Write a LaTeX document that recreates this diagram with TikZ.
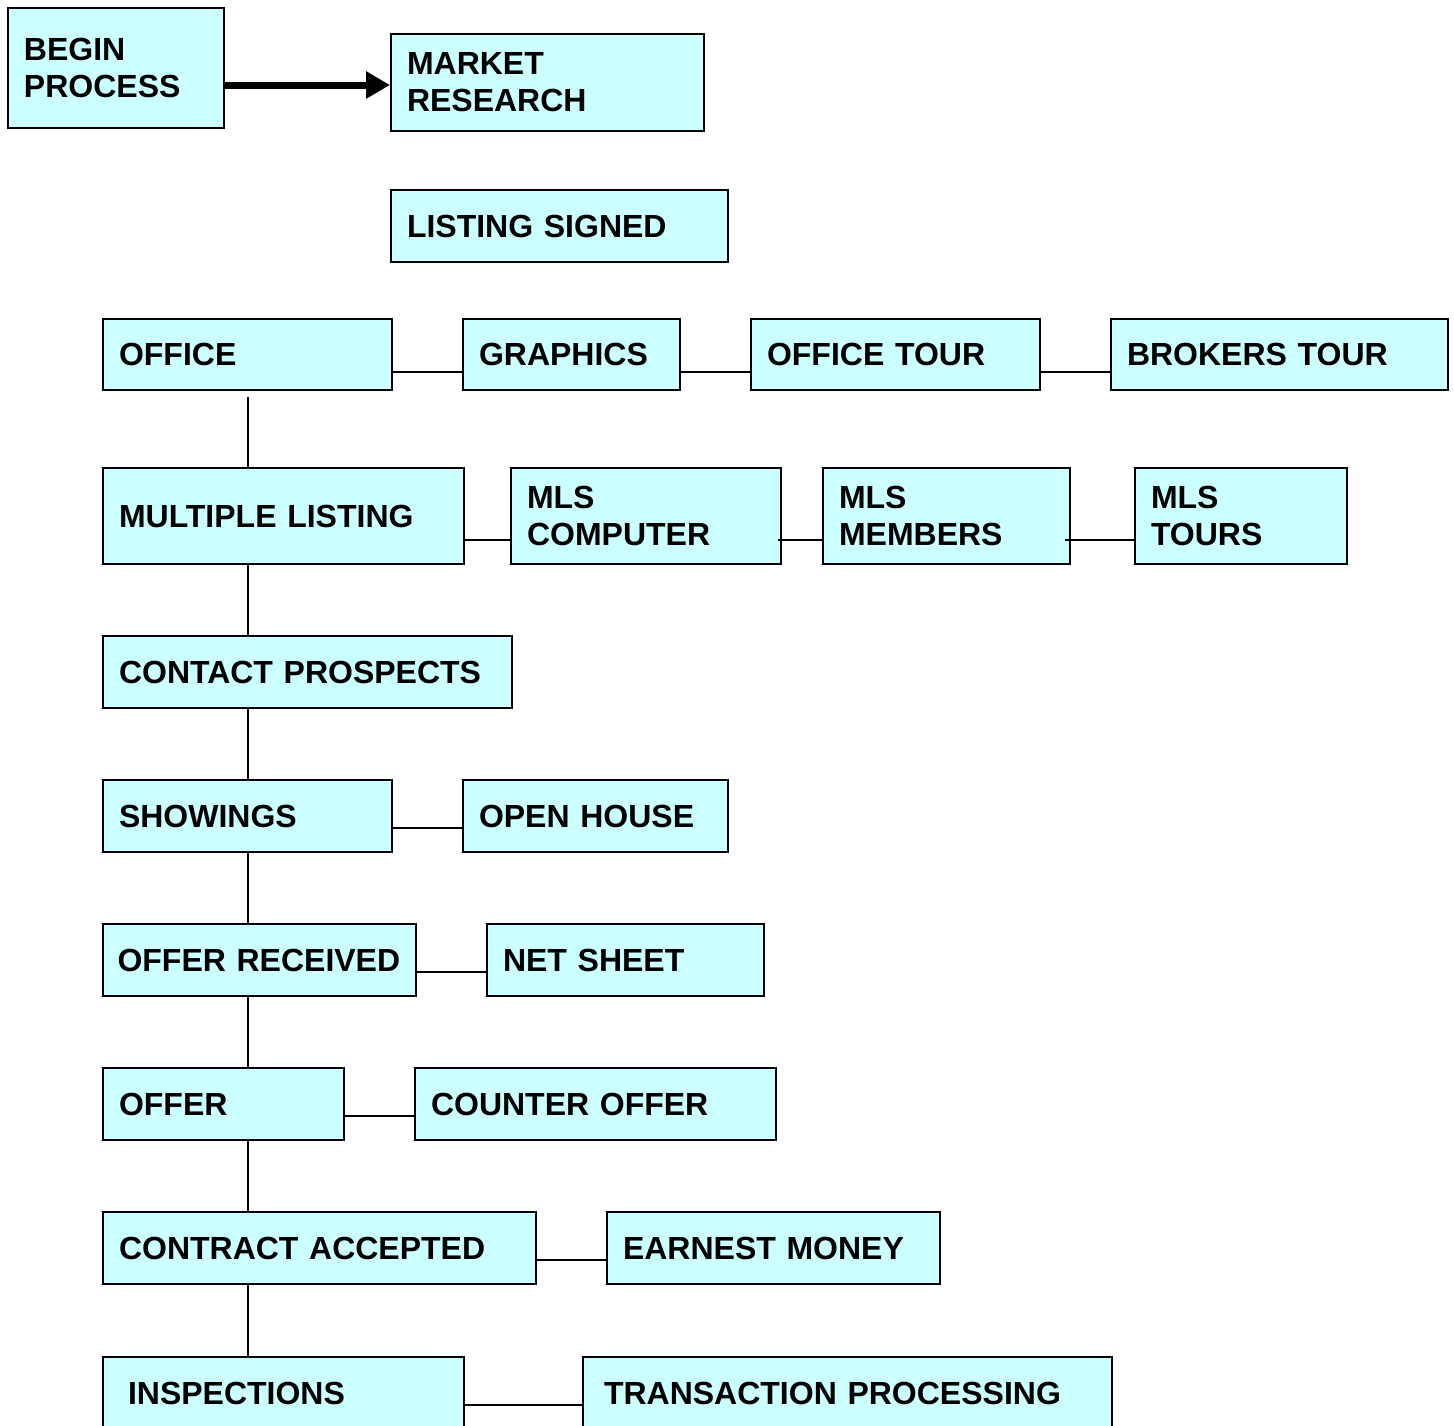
\documentclass[tikz,border=0pt]{standalone}
\usepackage{fontspec}
\setmainfont{Liberation Sans}
\usepackage{xcolor}
\usetikzlibrary{positioning,calc,arrows.meta}
\definecolor{boxcyan}{HTML}{CCFFFF}
\tikzset{
    cell/.style={draw=black, line width=1pt, fill=boxcyan, anchor=north west,
        inner xsep=8pt, inner ysep=0pt, align=left,
        font=\fontsize{16}{18.5}\selectfont\bfseries},
    cellw/.style 2 args={text width=#1, minimum height=#2},
    link/.style={line width=1pt}
}
\begin{document}
\begin{tikzpicture}[x=0.5pt, y=-0.5pt]
    \useasboundingbox (0, 0) rectangle (1454, 1425);
    % top row
    \node [cell, cellw={92pt}{60pt}] (begin) at (7, 7) {BEGIN\\PROCESS};
    \node [cell, cellw={140.5pt}{48.5pt}] (market) at (390, 33) {MARKET\\RESEARCH};
    \node [cell, cellw={152.5pt}{36pt}] (listing) at (390, 189) {LISTING SIGNED};
    \draw [line width=3.5pt, -{Triangle[length=12pt, width=13pt]}] (begin.east |- 0, 85) -- (market.west |- 0, 85); % start arrow
    % office row
    \node [cell, cellw={128.5pt}{35.5pt}] (office) at (102, 318) {OFFICE};
    \node [cell, cellw={92.5pt}{35.5pt}] (graphics) at (462, 318) {GRAPHICS};
    \node [cell, cellw={128.5pt}{35.5pt}] (officetour) at (750, 318) {OFFICE TOUR};
    \node [cell, cellw={152.5pt}{35.5pt}] (brokers) at (1110, 318) {BROKERS TOUR};
    % mls row
    \node [cell, cellw={164.5pt}{48pt}] (multiple) at (102, 467) {MULTIPLE LISTING};
    \node [cell, cellw={119pt}{48pt}] (mlscomp) at (510, 467) {MLS\\COMPUTER};
    \node [cell, cellw={107.5pt}{48pt}] (mlsmem) at (822, 467) {MLS\\MEMBERS};
    \node [cell, cellw={90pt}{48pt}] (mlstours) at (1134, 467) {MLS\\TOURS};
    % main column
    \node [cell, cellw={188.5pt}{36pt}] (contact) at (102, 635) {CONTACT PROSPECTS};
    \node [cell, cellw={128.5pt}{36pt}] (showings) at (102, 779) {SHOWINGS};
    \node [cell, cellw={116.5pt}{36pt}] (openhouse) at (462, 779) {OPEN HOUSE};
    \node [cell, cellw={142pt}{36pt}, inner xsep=7.25pt] (offerrec) at (102, 923) {OFFER RECEIVED};
    \node [cell, cellw={122.5pt}{36pt}] (netsheet) at (486, 923) {NET SHEET};
    \node [cell, cellw={104.5pt}{36pt}] (offer) at (102, 1067) {OFFER};
    \node [cell, cellw={164.5pt}{36pt}] (counter) at (414, 1067) {COUNTER OFFER};
    \node [cell, cellw={200.5pt}{36pt}] (contract) at (102, 1211) {CONTRACT ACCEPTED};
    \node [cell, cellw={150.5pt}{36pt}] (earnest) at (606, 1211) {EARNEST MONEY};
    \node [cell, cellw={155.5pt}{36pt}, inner xsep=12.5pt] (inspections) at (102, 1356) {INSPECTIONS};
    \node [cell, cellw={243.5pt}{36pt}, inner xsep=10.5pt] (transaction) at (582, 1356) {TRANSACTION PROCESSING};
    % side links
    \draw [link] ([yshift=-8.5pt]office.east) -- ([yshift=-8.5pt]graphics.west);
    \draw [link] ([yshift=-8.5pt]graphics.east) -- ([yshift=-8.5pt]officetour.west);
    \draw [link] ([yshift=-8.5pt]officetour.east) -- ([yshift=-8.5pt]brokers.west);
    \draw [link] ([yshift=-12pt]multiple.east) -- ([yshift=-12pt]mlscomp.west);
    \draw [link] ([xshift=-2pt, yshift=-12pt]mlscomp.east) -- ([yshift=-12pt]mlsmem.west);
    \draw [link] ([xshift=-3pt, yshift=-12pt]mlsmem.east) -- ([yshift=-12pt]mlstours.west);
    \draw [link] ([yshift=-6pt]showings.east) -- ([yshift=-6pt]openhouse.west);
    \draw [link] ([yshift=-6pt]offerrec.east) -- ([yshift=-6pt]netsheet.west);
    \draw [link] ([yshift=-6pt]offer.east) -- ([yshift=-6pt]counter.west);
    \draw [link] ([yshift=-6pt]contract.east) -- ([yshift=-6pt]earnest.west);
    \draw [link] ([yshift=-6pt]inspections.east) -- ([yshift=-6pt]transaction.west);
    % main spine
    \coordinate (spine) at (office.south);
    \draw [link] ([yshift=-3pt]office.south) -- (spine |- multiple.north);
    \draw [link] (spine |- multiple.south) -- (spine |- contact.north);
    \draw [link] (spine |- contact.south) -- (spine |- showings.north);
    \draw [link] (spine |- showings.south) -- (spine |- offerrec.north);
    \draw [link] (spine |- offerrec.south) -- (spine |- offer.north);
    \draw [link] (spine |- offer.south) -- (spine |- contract.north);
    \draw [link] (spine |- contract.south) -- (spine |- inspections.north);
\end{tikzpicture}
\end{document}
